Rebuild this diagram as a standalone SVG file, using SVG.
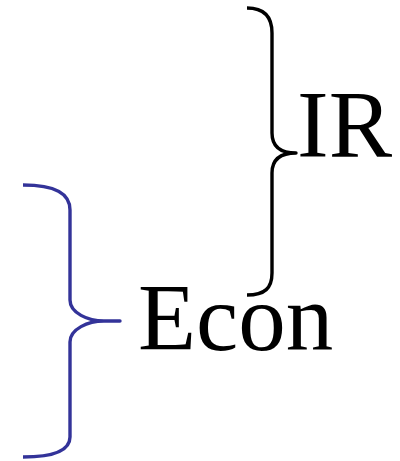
<svg xmlns="http://www.w3.org/2000/svg" width="400" height="461" viewBox="0 0 400 461">
<style>
.brace{fill:none;stroke-width:3.4;stroke-linecap:butt;stroke-linejoin:round}
.lbl{font-family:"Liberation Serif","Times New Roman",serif;font-size:95px;fill:#000}
</style>
<rect width="400" height="461" fill="#fff"/>
<g id="connectors">
<path class="brace" stroke="#000" d="M247,8 C265,8 272,18 272,33 L272,133 C272,146 280,153 296,153 C280,153 272,160 272,173 L272,273 C272,288 265,295 247,295"/>
<path class="brace" stroke="#333399" d="M23,185 C55,185 70,193 70,210 L70,300 C70,313 88,321 104,321 L120,321 L104,321 C88,321 70,329 70,342 L70,437 C70,450 55,457 23,457"/>
</g>
<g id="ir"><text class="lbl" x="297" y="157">IR</text></g>
<g id="econ"><text class="lbl" x="138" y="350">Econ</text></g>
</svg>
